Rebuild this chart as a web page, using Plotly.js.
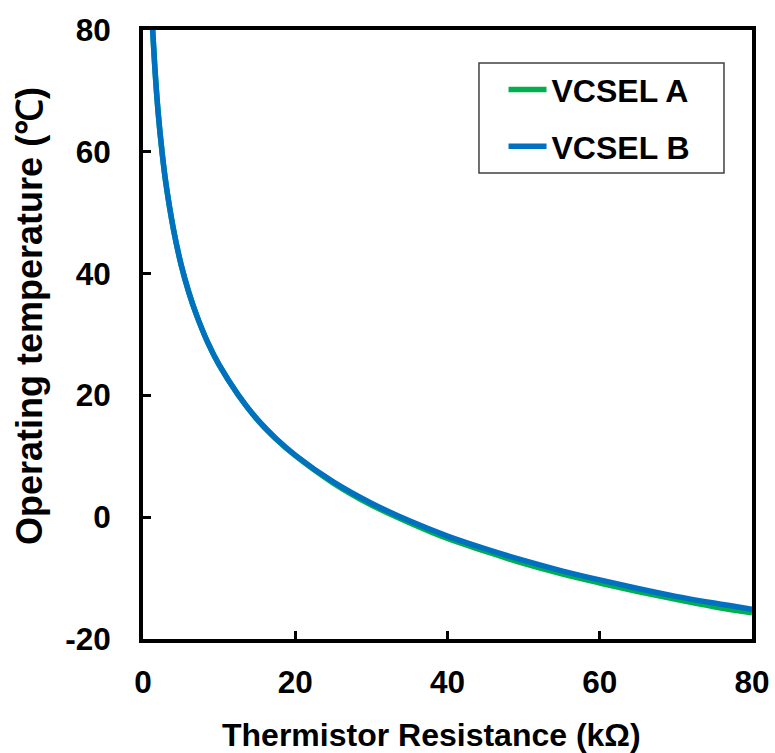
<!DOCTYPE html>
<html>
<head>
<meta charset="utf-8">
<script src="https://cdn.plot.ly/plotly-3.0.1.min.js"></script>
<style>html,body{margin:0;padding:0;background:#fff;}</style>
</head>
<body>
<div id="chart" style="width:775px;height:753px;"></div>
<script>
// Thermistor resistance (kΩ)
const resistance = [1.25, 1.6, 2, 2.5, 3, 4, 5, 6, 7, 8.5, 10, 12.5, 15, 17.5, 20, 25, 30, 35, 40, 45, 50, 55, 60, 65, 70, 75, 80];
// Operating temperature (°C)
const tempA = [80.5, 73.0, 66.3, 60.0, 54.9, 47.3, 41.5, 37.0, 33.3, 28.7, 25.0, 20.1, 16.0, 12.8, 10.1, 5.6, 2.0, -0.9, -3.5, -5.6, -7.6, -9.3, -10.8, -12.2, -13.5, -14.7, -15.7];
const tempB = [80.5, 73.0, 66.3, 60.0, 54.9, 47.3, 41.5, 37.0, 33.3, 28.7, 25.0, 20.1, 16.1, 12.9, 10.2, 5.8, 2.3, -0.6, -3.1, -5.2, -7.1, -8.8, -10.3, -11.7, -13.0, -14.1, -15.1];
const seriesNames = ["VCSEL A", "VCSEL B"];
const xTicks = [0, 20, 40, 60, 80];
const yTicks = [-20, 0, 20, 40, 60, 80];
const xTitle = "Thermistor Resistance (kΩ)";
const yTitle = "Operating temperature (℃)";

const FONT = "Liberation Sans, Arial, sans-serif";
const traces = [
  {x: resistance, y: tempA, name: seriesNames[0], mode: "lines", legendgroup: "a",
   line: {color: "#00b050", width: 5.5, shape: "spline"}},
  {x: resistance, y: tempB, name: seriesNames[1], mode: "lines", legendgroup: "b",
   line: {color: "#0070c0", width: 5.5, shape: "spline"}}
];
const layout = {
  width: 775, height: 753,
  margin: {l: 143, r: 23, t: 30, b: 114},
  paper_bgcolor: "#fff", plot_bgcolor: "#fff",
  font: {family: FONT, color: "#000", size: 32},
  showlegend: true,
  legend: {
    x: 0.592, y: 0.947, xanchor: "left", yanchor: "top",
    borderwidth: 0, bgcolor: "rgba(0,0,0,0)",
    font: {family: FONT, size: 32, color: "#000", weight: "bold"},
    tracegroupgap: 12, itemwidth: 38
  },
  shapes: [{type: "rect", xref: "paper", yref: "paper",
    x0: 0.5517, x1: 0.954, y0: 0.7652, y1: 0.9458,
    line: {color: "#404040", width: 1.5}, fillcolor: "rgba(0,0,0,0)", layer: "below"}],
  annotations: [
    {text: xTitle, xref: "paper", yref: "paper",
     x: 0.4745, y: -0.158, xanchor: "center", yanchor: "middle", showarrow: false,
     font: {family: FONT, size: 32, color: "#000", weight: "bold"}},
    {text: yTitle, xref: "paper", yref: "paper", textangle: -90,
     x: -0.186, y: 0.530, xanchor: "center", yanchor: "middle", showarrow: false,
     font: {family: FONT, size: 36, color: "#000", weight: "bold"}}
  ],
  xaxis: {
    range: [0, 80], tickvals: xTicks, ticktext: xTicks.map(String),
    ticks: "inside", ticklen: 8, tickwidth: 3, tickcolor: "#000",
    showline: true, linewidth: 4, linecolor: "#000", mirror: true,
    showgrid: false, zeroline: false,
    tickfont: {family: FONT, size: 31.5, color: "#000", weight: "bold"},
    ticklabelstandoff: 12
  },
  yaxis: {
    range: [-20, 80], tickvals: yTicks, ticktext: yTicks.map(String),
    ticks: "inside", ticklen: 8, tickwidth: 3, tickcolor: "#000",
    showline: true, linewidth: 4, linecolor: "#000", mirror: true,
    showgrid: false, zeroline: false,
    tickfont: {family: FONT, size: 31.5, color: "#000", weight: "bold"},
    ticklabelstandoff: 22
  }
};
Plotly.newPlot("chart", traces, layout, {displayModeBar: false, staticPlot: true});
</script>
</body>
</html>
